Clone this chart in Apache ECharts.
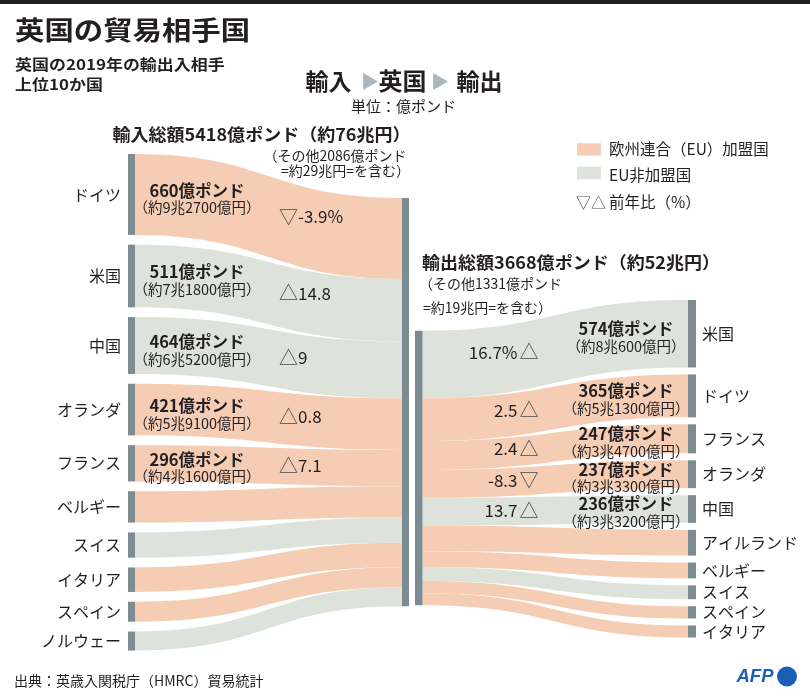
<!DOCTYPE html>
<html>
<head>
<meta charset="utf-8">
<script src="https://cdn.jsdelivr.net/npm/echarts/dist/echarts.min.js"></script>
<style>html,body{margin:0;padding:0;background:#fff}#main{width:810px;height:700px}</style>
</head>
<body>
<div id="main"></div>
<script>
// ---------------- data (億ポンド) ----------------
const importCountries = ['ドイツ','米国','中国','オランダ','フランス','ベルギー','スイス','イタリア','スペイン','ノルウェー'];
const importValues    = [660, 511, 464, 421, 296, 256, 206, 200, 163, 155];
const importIsEU      = [true, false, false, true, true, true, false, true, true, false];
const importYen       = ['9兆2700億円','7兆1800億円','6兆5200億円','5兆9100億円','4兆1600億円', null, null, null, null, null];
const importChange    = [-3.9, 14.8, 9, 0.8, 7.1, null, null, null, null, null];

const exportCountries = ['米国','ドイツ','フランス','オランダ','中国','アイルランド','ベルギー','スイス','スペイン','イタリア'];
const exportValues    = [574, 365, 247, 237, 236, 219, 134, 118, 104, 103];
const exportIsEU      = [false, true, true, true, false, true, true, false, true, true];
const exportYen       = ['8兆600億円','5兆1300億円','3兆4700億円','3兆3300億円','3兆3200億円', null, null, null, null, null];
const exportChange    = [16.7, 2.5, 2.4, -8.3, 13.7, null, null, null, null, null];

const importTotal = 5418, importTotalYen = '76兆円', importOther = 2086, importOtherYen = '29兆円';
const exportTotal = 3668, exportTotalYen = '52兆円', exportOther = 1331, exportOtherYen = '19兆円';

// ---------------- styles / layout ----------------
const FONT = '"Noto Sans CJK JP","Noto Sans",sans-serif';
const INK = '#231f20';
const COLOR_EU = '#f5cdb4', COLOR_NONEU = '#dde3da', COLOR_NODE = '#7d8b93', COLOR_ARROW = '#a9b7c0';
const L_NODE_X0 = 128, L_NODE_X1 = 135;
const UK_IN_X0 = 402, UK_IN_X1 = 409;
const UK_OUT_X0 = 415, UK_OUT_X1 = 422.5;
const R_NODE_X0 = 688, R_NODE_X1 = 696;
const GAP_L = 9.8, GAP_R = 7;
const UK_IN_OFFSET = 44, UK_OUT_OFFSET = 30.7;

function cum(arr, i) { let s = 0; for (let k = 0; k < i; k++) s += arr[k]; return s; }
function total(arr) { return cum(arr, arr.length); }

function flowPath(x0, y0t, y0b, x1, y1t, y1b) {
  const xm = (x0 + x1) / 2;
  return 'M' + x0 + ',' + y0t + ' C' + xm + ',' + y0t + ' ' + xm + ',' + y1t + ' ' + x1 + ',' + y1t +
         ' L' + x1 + ',' + y1b + ' C' + xm + ',' + y1b + ' ' + xm + ',' + y0b + ' ' + x0 + ',' + y0b + ' Z';
}

function txt(x, y, text, size, o) {
  o = o || {};
  return {
    type: 'text', x: x, y: y, scaleX: o.sx || 1, z: 100, z2: 10,
    style: {
      text: text, fill: o.color || INK, fontSize: size, fontFamily: o.family || FONT,
      fontWeight: o.weight || 'normal', fontStyle: o.style || 'normal',
      align: o.align || 'left', verticalAlign: 'middle'
    }
  };
}
function changeLabel(v, i) { return i === 0 ? v + '%' : String(v); }

function renderImport(params, api) {
  const i = api.value(0), v = api.value(1);
  const base = api.coord([0, cum(importValues, i)])[1];
  const h = api.size([0, v])[1];
  const y0 = base + i * GAP_L, y1 = y0 + h;
  const u0 = base + UK_IN_OFFSET, u1 = u0 + h;
  const xa0 = api.coord([L_NODE_X0, 0])[0], xa = api.coord([L_NODE_X1, 0])[0];
  const xb = api.coord([UK_IN_X0, 0])[0];
  const c = (y0 + y1) / 2, uc = (u0 + u1) / 2;
  const children = [
    { type: 'path', shape: { pathData: flowPath(xa, y0, y1, xb, u0, u1) }, style: { fill: importIsEU[i] ? COLOR_EU : COLOR_NONEU } },
    { type: 'rect', shape: { x: xa0, y: y0, width: xa - xa0, height: h }, style: { fill: COLOR_NODE } },
    txt(121, c, importCountries[i], 16, { align: 'right' })
  ];
  if (importYen[i]) {
    children.push(txt(197, c - 4, v + '億ポンド', 16.5, { align: 'center', weight: 'bold' }));
    children.push(txt(197, c + 13.5, '（約' + importYen[i] + '）', 14.5, { align: 'center' }));
  }
  const ch = importChange[i];
  if (ch != null) {
    const ly = c + 0.5 * (uc - c);
    children.push(txt(279, ly, ch < 0 ? '▽' : '△', 19, { color: '#4a4a4a' }));
    children.push(txt(298, ly, changeLabel(ch, i), 17));
  }
  return { type: 'group', children: children };
}

function renderExport(params, api) {
  const i = api.value(0), v = api.value(1);
  const base = api.coord([0, cum(exportValues, i)])[1];
  const h = api.size([0, v])[1];
  const y0 = base + i * GAP_R, y1 = y0 + h;
  const u0 = base + UK_OUT_OFFSET, u1 = u0 + h;
  const xa = api.coord([UK_OUT_X1, 0])[0];
  const xb = api.coord([R_NODE_X0, 0])[0], xb1 = api.coord([R_NODE_X1, 0])[0];
  const c = (y0 + y1) / 2, uc = (u0 + u1) / 2;
  const children = [
    { type: 'path', shape: { pathData: flowPath(xa, u0, u1, xb, y0, y1) }, style: { fill: exportIsEU[i] ? COLOR_EU : COLOR_NONEU } },
    { type: 'rect', shape: { x: xb, y: y0, width: xb1 - xb, height: h }, style: { fill: COLOR_NODE } },
    txt(702, c, exportCountries[i], 16)
  ];
  if (exportYen[i]) {
    children.push(txt(626, c - 5, v + '億ポンド', 16.5, { align: 'center', weight: 'bold' }));
    children.push(txt(626, c + 12.5, '（約' + exportYen[i] + '）', 14.5, { align: 'center' }));
  }
  const ch = exportChange[i];
  if (ch != null) {
    const ly = uc + 0.4 * (c - uc);
    children.push(txt(538.5, ly, ch < 0 ? '▽' : '△', 19, { color: '#4a4a4a', align: 'right' }));
    children.push(txt(517.5, ly, changeLabel(ch, i), 17, { align: 'right' }));
  }
  return { type: 'group', children: children };
}

function renderUKBar(x0, x1, offset) {
  return function (params, api) {
    const top = api.coord([0, 0])[1] + offset;
    const h = api.size([0, api.value(1)])[1];
    const a = api.coord([x0, 0])[0], b = api.coord([x1, 0])[0];
    return { type: 'rect', shape: { x: a, y: top, width: b - a, height: h }, style: { fill: COLOR_NODE } };
  };
}

const chart = echarts.init(document.getElementById('main'), null, { renderer: 'canvas' });
const option = {
  animation: false,
  backgroundColor: '#ffffff',
  grid: [
    { left: 0, right: 0, top: 154, height: 500 },
    { left: 0, right: 0, top: 300, height: 390 }
  ],
  xAxis: [
    { type: 'value', gridIndex: 0, min: 0, max: 810, show: false },
    { type: 'value', gridIndex: 1, min: 0, max: 810, show: false }
  ],
  yAxis: [
    { type: 'value', gridIndex: 0, min: 0, max: 4080, inverse: true, show: false },
    { type: 'value', gridIndex: 1, min: 0, max: 3320, inverse: true, show: false }
  ],
  series: [
    { type: 'custom', name: '輸入', xAxisIndex: 0, yAxisIndex: 0, clip: false, silent: true,
      renderItem: renderImport, data: importValues.map(function (v, i) { return [i, v]; }) },
    { type: 'custom', name: '英国輸入', xAxisIndex: 0, yAxisIndex: 0, clip: false, silent: true,
      renderItem: renderUKBar(UK_IN_X0, UK_IN_X1, UK_IN_OFFSET), data: [[0, total(importValues)]] },
    { type: 'custom', name: '輸出', xAxisIndex: 1, yAxisIndex: 1, clip: false, silent: true,
      renderItem: renderExport, data: exportValues.map(function (v, i) { return [i, v]; }) },
    { type: 'custom', name: '英国輸出', xAxisIndex: 1, yAxisIndex: 1, clip: false, silent: true,
      renderItem: renderUKBar(UK_OUT_X0, UK_OUT_X1, UK_OUT_OFFSET), data: [[0, total(exportValues)]] }
  ],
  graphic: [
    { type: 'rect', shape: { x: 0, y: 0, width: 810, height: 4 }, style: { fill: INK } },
    txt(15, 30, '英国の貿易相手国', 26, { weight: 'bold', sx: 1.13 }),
    txt(15, 64.5, '英国の2019年の輸出入相手', 14.5, { weight: 'bold', sx: 1.17 }),
    txt(15, 84.5, '上位10か国', 14.5, { weight: 'bold', sx: 1.17 }),
    txt(328.5, 81, '輸入', 23, { weight: 'bold', align: 'center' }),
    txt(370, 81.5, '▶', 18, { color: COLOR_ARROW, align: 'center' }),
    txt(402.5, 81, '英国', 24, { weight: 'bold', align: 'center' }),
    txt(440, 81.5, '▶', 18, { color: COLOR_ARROW, align: 'center' }),
    txt(479.5, 81, '輸出', 23, { weight: 'bold', align: 'center' }),
    txt(403.5, 106, '単位：億ポンド', 15, { align: 'center' }),
    txt(112.5, 134.5, '輸入総額' + importTotal + '億ポンド（約' + importTotalYen + '）', 17, { weight: 'bold', sx: 1.06 }),
    txt(406.5, 155.5, '（その他' + importOther + '億ポンド', 14, { align: 'right' }),
    txt(410, 171, '=約' + importOtherYen + '=を含む）', 14, { align: 'right' }),
    txt(422, 262.5, '輸出総額' + exportTotal + '億ポンド（約' + exportTotalYen + '）', 17, { weight: 'bold', sx: 1.06 }),
    txt(419, 283.3, '（その他' + exportOther + '億ポンド', 14),
    txt(423, 307.5, '=約' + exportOtherYen + '=を含む）', 14),
    { type: 'rect', shape: { x: 577, y: 143.3, width: 24, height: 12.4 }, style: { fill: COLOR_EU } },
    txt(609, 149, '欧州連合（EU）加盟国', 15.5),
    { type: 'rect', shape: { x: 577, y: 166.7, width: 24, height: 12.6 }, style: { fill: COLOR_NONEU } },
    txt(609, 175, 'EU非加盟国', 15.5),
    txt(576, 202, '▽△', 15, { color: '#4a4a4a' }),
    txt(609, 202, '前年比（%）', 15.5),
    txt(14, 681, '出典：英歳入関税庁（HMRC）貿易統計', 14),
    txt(736.5, 676.5, 'AFP', 18.5, { weight: 'bold', style: 'italic', color: '#1a5fb4', family: '"Liberation Sans","DejaVu Sans",sans-serif' }),
    { type: 'circle', shape: { cx: 787, cy: 676.5, r: 10 }, style: { fill: '#1a5fb4' } }
  ]
};
chart.setOption(option);
</script>
</body>
</html>
